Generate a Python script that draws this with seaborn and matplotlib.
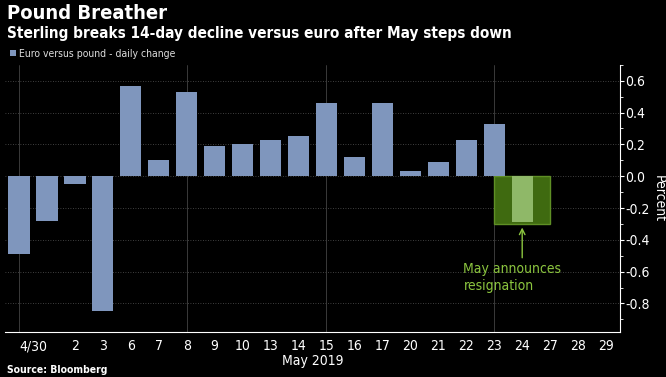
import numpy as np
import pandas as pd
import seaborn as sns
import matplotlib.pyplot as plt
from matplotlib.patches import Rectangle, Patch

# Daily change of euro versus pound, in percent
days = ["4/30", "1", "2", "3", "6", "7", "8", "9", "10", "13", "14", "15",
        "16", "17", "20", "21", "22", "23", "24", "27", "28", "29"]
tick_labels = ["4/30", "", "2", "3", "6", "7", "8", "9", "10", "13", "14", "15",
               "16", "17", "20", "21", "22", "23", "24", "27", "28", "29"]
change = [-0.49, -0.28, -0.05, -0.85, 0.57, 0.10, 0.53, 0.19, 0.20, 0.23, 0.25, 0.46,
          0.12, 0.46, 0.03, 0.09, 0.23, 0.33, -0.29, np.nan, np.nan, np.nan]
event_day = "24"

bar_blue = "#7f96bd"
box_green = "#3f6a10"
bar_green = "#8fb868"
text_green = "#8cc63f"

df = pd.DataFrame({"day": days, "change": change})
df["kind"] = np.where(df["day"] == event_day, "event", "normal")

sns.set_style("dark")
plt.rcParams["font.family"] = ["DejaVu Sans"]
plt.rcParams["font.stretch"] = "condensed"
plt.rcParams["axes.unicode_minus"] = False

fig = plt.figure(figsize=(6.66, 3.77), dpi=100, facecolor="black")
ax = fig.add_axes([0.0075, 0.119, 0.9235, 0.709])
ax.set_facecolor("black")

sns.barplot(data=df.dropna(), x="day", y="change", hue="kind", order=days,
            palette={"normal": bar_blue, "event": bar_green}, dodge=False,
            width=0.76, saturation=1, linewidth=0, legend=False, ax=ax, zorder=3)

i = days.index(event_day)
ax.add_patch(Rectangle((i - 1, -0.30), 2, 0.30, facecolor=box_green,
                       edgecolor="#5f8f25", lw=1, zorder=2))

ax.annotate("", xy=(i, -0.305), xytext=(i, -0.53),
            arrowprops=dict(arrowstyle="->", color=text_green, lw=1), zorder=4)
ax.text(i - 2.1, -0.54, "May announces\nresignation", color=text_green,
        fontsize=10, ha="left", va="top", linespacing=1.3, zorder=4)

ax.set_xlim(-0.5, len(days) - 0.5)
ax.set_ylim(-0.98, 0.70)
ax.set_xticks(range(len(days)))
ax.set_xticklabels(tick_labels)
ax.get_xticklabels()[0].set_ha("left")
ax.set_yticks([0.6, 0.4, 0.2, 0.0, -0.2, -0.4, -0.6, -0.8])
ax.set_yticks(np.arange(-0.9, 0.71, 0.1), minor=True)
ax.yaxis.tick_right()
ax.yaxis.set_label_position("right")
ax.set_ylabel("Percent", color="white", fontsize=10, rotation=270,
              va="center", ha="center")
ax.yaxis.set_label_coords(1.0625, 0.5)
ax.set_xlabel("May 2019", color="white", fontsize=10, labelpad=1)
ax.tick_params(axis="both", colors="white", labelsize=10, length=3, width=0.8)
ax.tick_params(axis="y", which="minor", colors="white", length=2, width=0.6)
ax.tick_params(axis="x", pad=2)
ax.tick_params(axis="y", pad=1)

for side in ["top", "left"]:
    ax.spines[side].set_visible(False)
for side in ["right", "bottom"]:
    ax.spines[side].set_visible(True)
    ax.spines[side].set_color("white")
    ax.spines[side].set_linewidth(0.8)

ax.grid(False)
for y in [0.6, 0.4, 0.2, 0.0, -0.2, -0.4, -0.6, -0.8]:
    ax.axhline(y, color="#555555", lw=0.6, ls=(0, (1, 2)), zorder=1)
for d in ["4/30", "8", "15", "23"]:
    ax.axvline(days.index(d), color="#444444", lw=0.6, zorder=1)

fig.text(0.011, 0.99, "Pound Breather", color="white", fontsize=14.5,
         fontweight="bold", va="top")
fig.text(0.011, 0.93, "Sterling breaks 14-day decline versus euro after May steps down",
         color="white", fontsize=11, fontweight="bold", va="top")
fig.legend(handles=[Patch(facecolor=bar_blue, edgecolor="none",
                          label="Euro versus pound - daily change")],
           loc="upper left", bbox_to_anchor=(0.004, 0.89), frameon=False,
           labelcolor="#dddddd", fontsize=7.5, handlelength=0.6, handleheight=0.6,
           handletextpad=0.3, borderpad=0.2)
fig.text(0.011, 0.005, "Source: Bloomberg", color="white", fontsize=7.5,
         fontweight="bold", va="bottom")

fig.savefig("out.png", dpi=100, facecolor="black")
